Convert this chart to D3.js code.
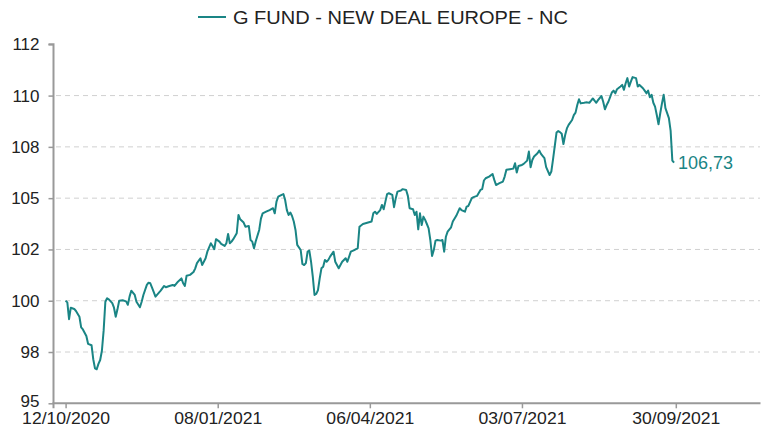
<!DOCTYPE html>
<html>
<head>
<meta charset="utf-8">
<script src="https://cdn.jsdelivr.net/npm/d3@7"></script>
<style>
  body { margin: 0; background: #fff; }
  svg text { font-family: "Liberation Sans", Arial, sans-serif; }
</style>
</head>
<body>
<div id="chart"></div>
<script>
// Fund name and series
const seriesName = "G FUND - NEW DEAL EUROPE - NC";
const startDate = "12/10/2020";

const obsDay = [0,1,2,3,5,6,8,9,10,12,13,15,16,17,18,19,20,21,22,23,24,25,27,28,29,30,31,33,35,36,
  37,38,40,41,43,44,45,47,48,49,50,52,53,55,57,58,60,62,63,65,67,68,69,70,72,74,75,76,78,79,
  81,82,84,85,86,87,89,90,92,93,94,95,96,97,99,100,101,103,104,106,107,108,109,110,112,113,114,116,118,120,
  121,122,123,125,126,127,128,129,130,131,132,133,134,136,137,138,139,140,141,142,143,144,145,146,147,148,149,150,151,152,
  153,155,156,158,159,160,162,163,165,167,169,170,172,175,177,178,179,180,182,183,184,185,186,187,189,190,191,192,194,195,
  197,198,199,201,202,203,204,205,206,207,208,209,210,211,212,213,214,215,217,218,219,220,221,223,224,226,228,229,231,232,
  233,235,236,238,240,241,242,243,245,247,248,249,251,253,254,255,257,259,260,261,262,264,265,267,268,269,270,271,273,274,
  275,277,278,280,281,282,284,285,286,287,288,289,290,291,293,294,295,296,297,298,300,301,303,304,305,306,307,308,310,311,
  312,313,314,315,316,317,318,319,321,322,323,324,325,326,327,328,330,331,332,334,335,336,337,338,339,340,341,342,343,344,
  345,346,347,349,350,351,352];

// fund value (base 100)
const navValues = [100.0,99.92,99.1,99.66,99.6,99.5,99.22,98.7,98.6,98.28,97.9,97.83,97.15,96.7,96.66,96.92,97.11,97.56,98.54,99.95,
  100.12,100.07,99.88,99.66,99.22,99.58,100.0,100.02,99.97,99.8,100.2,100.49,100.28,99.95,99.68,99.95,100.28,100.77,100.88,100.85,
  100.64,100.2,100.3,100.49,100.72,100.66,100.72,100.77,100.72,100.93,101.09,100.85,100.72,101.22,101.26,101.4,101.58,101.83,102.07,101.74,
  102.07,102.39,102.8,102.67,102.51,103.0,102.88,102.77,102.67,102.8,103.25,102.8,102.88,103.0,103.29,104.18,103.97,103.81,103.61,103.64,
  102.96,102.88,102.56,102.9,103.45,104.0,104.26,104.34,104.42,104.51,104.26,104.83,105.07,105.16,105.2,104.91,104.42,104.18,104.3,104.13,
  103.86,103.45,102.72,102.47,101.79,101.74,101.83,102.39,102.44,101.9,101.17,100.28,100.33,100.52,101.09,101.58,101.66,101.99,101.9,101.99,
  102.15,102.39,101.9,101.58,101.74,101.9,102.07,101.9,102.39,102.47,102.56,103.61,103.74,103.81,103.86,104.26,104.34,104.23,104.42,104.67,
  104.46,104.83,105.2,105.24,105.16,104.56,105.0,105.32,105.37,105.44,105.4,105.11,104.51,104.46,104.18,104.34,103.48,104.26,103.69,104.1,
  103.94,103.74,103.53,102.96,102.18,102.47,102.93,102.96,102.93,102.96,102.39,103.12,103.37,103.58,103.86,104.14,104.51,104.42,104.34,104.59,
  104.62,105.0,105.05,105.11,105.4,105.44,105.86,105.97,106.05,106.18,105.89,105.64,105.73,105.81,106.05,106.38,106.41,106.44,106.7,106.25,
  106.57,106.62,106.67,106.83,107.27,106.51,106.86,107.03,107.19,107.32,107.16,106.95,106.51,106.13,106.3,106.9,108.2,108.27,108.22,108.14,
  107.64,108.08,108.4,108.57,108.81,109.05,109.17,109.54,109.82,109.62,109.65,109.67,109.65,109.75,109.86,109.75,109.65,109.78,109.98,109.7,
  109.33,109.54,109.7,109.92,110.15,110.24,110.11,110.31,110.44,110.52,110.28,110.6,110.85,110.44,110.68,110.9,110.85,110.44,110.52,110.36,
  110.24,110.11,110.24,109.92,110.04,109.65,109.46,109.05,108.6,109.14,109.62,110.04,109.39,108.9,108.29,106.83,106.73];

// axis ticks
const xTickLabels = ["12/10/2020", "08/01/2021", "06/04/2021", "03/07/2021", "30/09/2021"];
const yTicks = [95, 97.5, 100, 102.5, 105, 107.5, 110, 112.5];
const yTickLabels = ["95", "98", "100", "102", "105", "108", "110", "112"];
const lastLabel = "106,73";

const W = 769, H = 428;
const lineColor = "#1a8585";
const parse = d3.timeParse("%d/%m/%Y");
const t0 = parse(startDate);

const data = obsDay.map((d, i) => ({ date: d3.timeDay.offset(t0, d), value: navValues[i] }));

const svg = d3.select("#chart").append("svg")
  .attr("width", W)
  .attr("height", H);

const x = d3.scaleTime()
  .domain([parse("05/10/2020"), parse("18/11/2021")])
  .range([53.5, 760.5]);

const y = d3.scaleLinear()
  .domain([95, 112.5])
  .range([403.3, 44.3]);

// dashed gridlines
svg.append("g")
  .selectAll("line")
  .data(yTicks.filter(v => v > 95 && v < 112.5))
  .enter()
  .append("line")
  .attr("x1", 56).attr("x2", 760)
  .attr("y1", d => y(d)).attr("y2", d => y(d))
  .attr("stroke", "#d0d0d0")
  .attr("stroke-width", 1)
  .attr("stroke-dasharray", "5,4");

// y axis
const yAxis = svg.append("g")
  .attr("transform", "translate(53.5,0)")
  .call(d3.axisLeft(y).tickValues(yTicks).tickSize(5).tickPadding(9)
    .tickFormat((d, i) => yTickLabels[i]));

// x axis
const xAxis = svg.append("g")
  .attr("transform", `translate(0,${y(95)})`)
  .call(d3.axisBottom(x).tickValues(xTickLabels.map(parse)).tickSize(5).tickPadding(4)
    .tickFormat((d, i) => xTickLabels[i]));

[yAxis, xAxis].forEach(g => {
  g.select(".domain").attr("stroke", "#999").attr("stroke-width", 2);
  g.selectAll(".tick line").attr("stroke", "#999").attr("stroke-width", 1.5);
  g.selectAll(".tick text")
    .attr("fill", "#222")
    .style("font-family", "'Liberation Sans', Arial, sans-serif");
});
yAxis.selectAll(".tick text").style("font-size", "17px");
// lift the bottom y label a little so it clears the first date
yAxis.selectAll(".tick text").filter(d => d === 95).attr("dy", "0.2em");
xAxis.selectAll(".tick text").style("font-size", "17px")
  .attr("textLength", 88).attr("lengthAdjust", "spacingAndGlyphs");
yAxis.select(".domain").attr("d", `M-5,${y(112.5)}H0V${y(95)}`);
xAxis.select(".domain").attr("d", `M${x.range()[0]},5V0H${x.range()[1]}`);

// series line
const line = d3.line()
  .x(d => x(d.date))
  .y(d => y(d.value));

svg.append("path")
  .datum(data)
  .attr("fill", "none")
  .attr("stroke", lineColor)
  .attr("stroke-width", 2)
  .attr("stroke-linejoin", "round")
  .attr("d", line);

// last value label
const last = data[data.length - 1];
svg.append("text")
  .attr("x", x(last.date) + 4)
  .attr("y", y(last.value) + 6)
  .attr("fill", lineColor)
  .style("font-size", "18px")
  .text(lastLabel);

// legend
const legend = svg.append("g");
legend.append("line")
  .attr("x1", 198).attr("x2", 226)
  .attr("y1", 17).attr("y2", 17)
  .attr("stroke", lineColor)
  .attr("stroke-width", 2);
legend.append("text")
  .attr("x", 233)
  .attr("y", 24)
  .attr("fill", "#222")
  .style("font-size", "18px")
  .attr("textLength", 335)
  .attr("lengthAdjust", "spacingAndGlyphs")
  .text(seriesName);
</script>
</body>
</html>
